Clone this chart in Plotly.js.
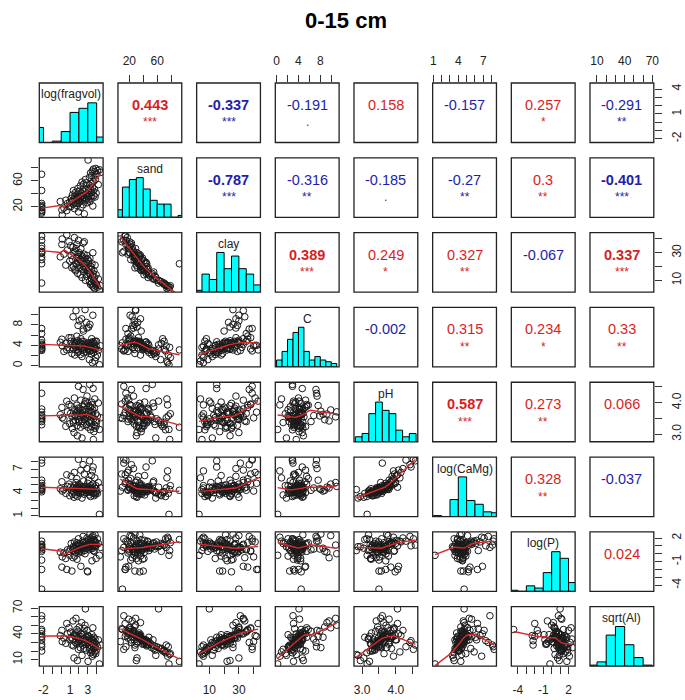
<!DOCTYPE html>
<html><head><meta charset="utf-8">
<script src="https://cdn.plot.ly/plotly-3.0.1.min.js"></script>
<style>html,body{margin:0;padding:0;background:#fff}</style>
</head><body>
<div id="chart" style="width:685px;height:700px"></div>
<script>
// ---------------- data ----------------
const varNames = ['log(fragvol)', 'sand', 'clay', 'C', 'pH', 'log(CaMg)', 'log(P)', 'sqrt(Al)'];

const fragvol = [-2.2,-2.2,-2.2,-2.2,-2.2,-2.2,-2.2,-2.2,-2.2,-2.2,-2.2,
  -0.1, 0.08,0.12,0.31,0.52,0.63,0.71,0.88,0.97,
  1.06,1.13,1.21,1.27,1.34,1.38,1.45,1.49,1.53,1.58,1.62,1.67,1.71,1.76,1.79,1.83,1.86,1.9,1.93,1.95,1.98,2.0,
  2.04,2.09,2.15,2.18,2.22,2.27,2.31,2.35,2.38,2.43,2.47,2.5,2.54,2.57,2.61,2.66,2.69,2.73,2.76,2.8,2.84,2.87,2.91,2.95,2.99,
  3.03,3.07,3.11,3.14,3.18,3.21,3.24,3.28,3.31,3.34,3.38,3.41,3.44,3.47,3.51,3.54,3.57,3.6,3.63,3.66,3.69,3.72,3.75,3.79,3.82,3.86,3.9,3.94,3.98,
  4.08,4.19,4.31,4.46];

const sand = [70,45,25,22,20,19,18,15,14,10,12,
  28,15,7,18,30,14,25,20,27,
  20,33,28,38,24,45,31,17,36,26,42,29,34,22,39,30,48,25,35,12,32,44,
  27,38,52,33,19,41,36,58,30,46,23,37,55,34,9,43,29,62,39,47,32,57,26,40,35,
  92,45,31,38,65,53,28,48,72,36,56,42,68,33,75,50,21,44,78,59,37,66,47,74,35,62,79,41,70,
  76,54,77,73];

const clay = [8,22,27,25,30,33,35,39,42,30,31,
  27,36,40,29,21,43,32,38,24,
  35,28,19,25,34,20,30,41,18,31,17,33,22,36,26,24,15,29,27,39,19,23,
  30,21,14,25,33,24,28,12,27,18,37,20,16,29,38,22,26,10,18,19,23,13,28,17,25,
  22,16,24,19,9,15,26,14,7,20,11,18,8,22,6,13,30,15,5,10,17,9,12,4,21,8,6,14,7,
  5,11,3,6];

const carbon = [3.2,3.4,3.5,3.8,5.0,4.2,6.3,7.3,4.0,4.5,3.0,
  4.6,5.2,3.9,2.8,4.4,3.1,3.6,5.5,3.2,
  4.8,5.5,2.4,4.1,9.6,3.3,4.7,4.0,2.1,4.3,3.7,10.8,4.5,5.8,3.1,4.9,2.6,7.9,4.2,2.9,3.5,4.6,
  8.8,3.9,2.2,4.4,5.3,3.4,9.2,1.8,4.8,3.0,7.2,6.8,2.5,4.7,3.3,3.6,11.0,4.1,3.8,4.3,8.5,2.7,7.4,3.3,4.5,
  3.1,4.2,7.6,3.7,1.2,2.9,8.1,4.0,2.9,4.6,2.3,3.5,5.3,4.4,0.6,3.1,9.9,4.7,3.6,2.6,4.1,4.4,3.4,0.9,4.8,3.3,1.6,3.9,4.8,
  2.1,3.0,0.2,3.9];

const pH = [3.3,3.45,3.6,3.5,3.55,3.8,3.4,4.3,3.7,3.5,3.6,
  3.62,3.85,3.52,3.48,3.25,4.05,3.71,3.94,3.33,
  3.66,3.89,3.57,3.18,3.42,3.36,3.05,4.15,3.78,3.61,3.44,3.55,3.69,3.92,3.27,2.95,3.74,3.58,3.83,4.52,3.39,3.67,
  3.46,3.81,3.53,3.22,4.08,3.35,3.64,2.88,3.76,3.41,4.42,3.59,3.87,3.28,3.96,3.47,3.71,4.05,3.54,3.79,3.63,3.31,4.21,3.50,3.98,
  3.22,3.68,3.91,3.56,3.37,4.58,3.73,3.45,3.14,3.86,3.40,4.02,3.24,3.70,3.93,3.60,3.77,4.45,2.83,3.49,3.08,3.30,3.82,4.12,3.19,3.43,3.65,3.26,3.38,
  3.58,3.99,3.15,3.52];

const logCaMg = [4.1,4.4,4.9,4.5,4.6,5.6,4.3,8.2,5.2,4.7,7.8,
  4.5,5.4,4.2,4.4,3.9,6.3,4.8,5.1,3.6,
  4.7,6.1,4.3,3.8,4.6,4.1,3.4,6.6,4.9,4.4,3.7,5.3,4.6,5.8,4.2,3.5,4.8,4.5,4.9,8.3,4.0,4.6,
  4.3,5.0,4.4,3.9,6.9,4.1,4.7,3.3,4.5,4.2,7.6,4.6,5.5,3.8,6.4,4.3,4.8,4.7,4.5,4.4,4.2,4.0,7.1,4.6,5.2,
  4.3,4.7,5.6,4.1,3.7,8.1,4.4,4.6,3.5,4.9,4.2,6.2,4.0,4.5,6.8,4.3,5.1,7.3,4.4,4.0,3.9,3.6,4.7,5.9,4.2,3.8,4.9,4.5,4.1,
  3.9,5.3,1.2,4.6];

const logP = [1.1,0.7,0.3,-0.8,0.9,1.2,0.5,1.6,-2.0,-4.5,0.8,
  0.2,-1.7,-0.4,0.1,-0.6,-2.0,0.5,0.3,-0.2,
  0.6,1.3,-2.2,0.4,-0.5,0.9,0.7,1.5,-0.3,0.8,0.2,1.1,0.5,1.4,-0.7,0.9,0.4,0.6,1.2,1.9,0.1,1.0,
  0.3,1.3,0.8,0.5,-1.6,0.7,0.2,0.9,1.1,1.6,2.2,0.6,1.4,0.8,0.4,1.2,0.0,1.0,0.9,1.5,0.7,1.0,2.0,-2.2,-2.3,
  1.8,0.9,1.6,0.5,1.3,1.1,2.5,0.8,1.9,1.4,0.6,1.7,1.2,-0.9,2.1,0.7,2.3,1.0,0.4,1.5,1.8,0.3,1.2,1.6,2.4,0.9,1.4,-0.6,1.1,
  1.9,1.3,-0.2,0.8];

const sqrtAl = [20,28,36,33,40,57,43,25,37,45,61,
  38,44,31,35,29,52,40,47,33,
  42,36,27,34,55,26,12,38,39,41,30,58,37,45,28,9,36,43,35,22,31,33,
  48,32,24,37,40,29,53,15,39,27,30,34,23,41,46,31,50,69,33,28,36,21,44,32,38,
  8,30,37,34,22,27,24,31,18,35,26,33,20,39,14,29,47,32,16,25,36,23,30,19,34,24,17,28,21,
  25,33,5,27];

// histogram bins (left edges of bins, bin width) and counts
const histStartFragvol = [-3,-2,-1,0,1,2,3,4];           const histCountFragvol = [11,0,1,8,22,25,29,4];
const histStartSand    = [0,10,20,30,40,50,60,70,80,90];  const histCountSand    = [4,16,20,21,15,9,7,7,0,1];
const histStartClay    = [0,5,10,15,20,25,30,35,40];      const histCountClay    = [1,10,7,22,13,20,13,10,4];
const histStartC       = [0,1,2,3,4,5,6,7,8,9,10];        const histCountC       = [4,9,16,20,23,9,4,6,4,3,2];
const histStartPH      = [2.8,3.0,3.2,3.4,3.6,3.8,4.0,4.2,4.4]; const histCountPH = [3,5,17,24,19,17,7,3,5];
const histStartCaMg    = [1,2,3,4,5,6,7,8];               const histCountCaMg    = [1,0,18,42,17,13,5,4];
const histStartP       = [-5,-4,-3,-2,-1,0,1,2];          const histCountP       = [1,0,5,3,17,36,30,8];
const histStartAl      = [0,10,20,30,40,50,60];           const histCountAl      = [1,4,29,37,20,8,1];
const histWidth = [1, 10, 5, 1, 0.2, 1, 1, 10];

// tick values and labels (x axis labels / y axis labels)
const ticksFragvol = [-2,-1,0,1,2,3,4];  const xLabFragvol = ['-2','','','1','','3',''];   const yLabFragvol = ['-2','','','1','','','4'];
const ticksSand = [20,40,60,80];         const xLabSand = ['20','','60',''];              const yLabSand = ['20','','60',''];
const ticksClay = [10,20,30,40];         const xLabClay = ['10','','30',''];              const yLabClay = ['10','','30',''];
const ticksC = [0,2,4,6,8,10];           const xLabC = ['0','','4','','8',''];            const yLabC = ['0','','4','','8',''];
const ticksPH = [3.0,3.5,4.0,4.5];       const xLabPH = ['3.0','','4.0',''];              const yLabPH = ['3.0','','4.0',''];
const ticksCaMg = [1,2,3,4,5,6,7,8];     const xLabCaMg = ['1','','','4','','','7',''];   const yLabCaMg = ['1','','','4','','','7',''];
const ticksP = [-4,-3,-2,-1,0,1,2];      const xLabP = ['-4','','','-1','','','2'];       const yLabP = ['-4','','','-1','','','2'];
const ticksAl = [10,20,30,40,50,60,70];  const xLabAl = ['10','','','40','','','70'];     const yLabAl = ['10','','','40','','','70'];

// correlations of the upper panels, row by row
const corrValues = [0.443,-0.337,-0.191,0.158,-0.157,0.257,-0.291,
  -0.787,-0.316,-0.185,-0.27,0.3,-0.401,
  0.389,0.249,0.327,-0.067,0.337,
  -0.002,0.315,0.234,0.33,
  0.587,0.273,0.066,
  0.328,-0.037,
  0.024];
const corrStars = ['***','***','.','','','*','**',
  '***','**','.','**','**','***',
  '***','*','**','','***',
  '','**','*','**',
  '***','**','',
  '**','',
  ''];

// ---------------- drawing ----------------
const vars = [fragvol, sand, clay, carbon, pH, logCaMg, logP, sqrtAl];
const histStarts = [histStartFragvol, histStartSand, histStartClay, histStartC, histStartPH, histStartCaMg, histStartP, histStartAl];
const histCounts = [histCountFragvol, histCountSand, histCountClay, histCountC, histCountPH, histCountCaMg, histCountP, histCountAl];
const tickVals = [ticksFragvol, ticksSand, ticksClay, ticksC, ticksPH, ticksCaMg, ticksP, ticksAl];
const xLabs = [xLabFragvol, xLabSand, xLabClay, xLabC, xLabPH, xLabCaMg, xLabP, xLabAl];
const yLabs = [yLabFragvol, yLabSand, yLabClay, yLabC, yLabPH, yLabCaMg, yLabP, yLabAl];

const NV = 8;
const FONT = 'Liberation Sans, Arial, Helvetica, sans-serif';
const W = 685, H = 700;
const PX0 = 39.3, PDX = 78.67, PW = 63.8;
const PY0 = 83, PDY = 74.81, PH = 59.5;

function ext(a) {
  const mn = Math.min(...a), mx = Math.max(...a), d = (mx - mn) * 0.04;
  return [mn - d, mx + d];
}

// R's lowess (clowess), used by panel.smooth
function lowess(xIn, yIn, f, nsteps) {
  const n = xIn.length;
  const ord = xIn.map((_, i) => i).sort((a, b) => (xIn[a] - xIn[b]) || (a - b));
  const x = [0].concat(ord.map(i => xIn[i]));
  const y = [0].concat(ord.map(i => yIn[i]));
  const delta = 0.01 * (x[n] - x[1]);
  const ys = new Array(n + 1).fill(0);
  const rw = new Array(n + 1).fill(1);
  const w = new Array(n + 1).fill(0);
  const res = new Array(n + 1).fill(0);
  const ns = Math.max(2, Math.min(n, Math.floor(f * n + 1e-7)));
  const range = x[n] - x[1];
  function lowest(xs, nleft, nright, userw) {
    const h = Math.max(xs - x[nleft], x[nright] - xs);
    const h9 = 0.999 * h, h1 = 0.001 * h;
    let a = 0, j = nleft;
    while (j <= n) {
      w[j] = 0;
      const r = Math.abs(x[j] - xs);
      if (r <= h9) {
        if (r <= h1) w[j] = 1;
        else { const q = r / h; const t = 1 - q * q * q; w[j] = t * t * t; }
        if (userw) w[j] *= rw[j];
        a += w[j];
      } else if (x[j] > xs) break;
      j++;
    }
    const nrt = j - 1;
    if (a <= 0) return null;
    for (j = nleft; j <= nrt; j++) w[j] /= a;
    if (h > 0) {
      a = 0;
      for (j = nleft; j <= nrt; j++) a += w[j] * x[j];
      let b = xs - a, c = 0;
      for (j = nleft; j <= nrt; j++) c += w[j] * (x[j] - a) * (x[j] - a);
      if (Math.sqrt(c) > 0.001 * range) {
        b /= c;
        for (j = nleft; j <= nrt; j++) w[j] *= (b * (x[j] - a) + 1);
      }
    }
    let out = 0;
    for (j = nleft; j <= nrt; j++) out += w[j] * y[j];
    return out;
  }
  let iter = 1;
  while (iter <= nsteps + 1) {
    let nleft = 1, nright = ns, last = 0, i = 1;
    for (;;) {
      if (nright < n) {
        const d1 = x[i] - x[nleft], d2 = x[nright + 1] - x[i];
        if (d1 > d2) { nleft++; nright++; continue; }
      }
      const v = lowest(x[i], nleft, nright, iter > 1);
      ys[i] = (v === null) ? y[i] : v;
      if (last < i - 1) {
        const denom = x[i] - x[last];
        for (let j = last + 1; j < i; j++) {
          const alpha = (x[j] - x[last]) / denom;
          ys[j] = alpha * ys[i] + (1 - alpha) * ys[last];
        }
      }
      last = i;
      const cut = x[last] + delta;
      for (i = last + 1; i <= n; i++) {
        if (x[i] > cut) break;
        if (x[i] === x[last]) { ys[i] = ys[last]; last = i; }
      }
      i = Math.max(last + 1, i - 1);
      if (last >= n) break;
    }
    for (let k = 1; k <= n; k++) res[k] = y[k] - ys[k];
    let sc = 0;
    for (let k = 1; k <= n; k++) sc += Math.abs(res[k]);
    sc /= n;
    if (iter > nsteps) break;
    const ar = [];
    for (let k = 1; k <= n; k++) ar.push(Math.abs(res[k]));
    ar.sort((a, b) => a - b);
    const m1 = Math.floor(n / 2);
    let cmad;
    if (n % 2 === 0) { const m2 = n - m1 - 1; cmad = 3 * (ar[m1] + ar[m2]); }
    else cmad = 6 * ar[m1];
    if (cmad < 1e-7 * sc) break;
    const c9 = 0.999 * cmad, c1 = 0.001 * cmad;
    for (let k = 1; k <= n; k++) {
      const r = Math.abs(res[k]);
      rw[k] = r <= c1 ? 1 : (r <= c9 ? Math.pow(1 - Math.pow(r / cmad, 2), 2) : 0);
    }
    iter++;
  }
  return { x: x.slice(1), y: ys.slice(1) };
}

const RED = '#d81e1e', BLUE = '#1e1eaa';
const layout = {
  width: W, height: H,
  margin: { l: 0, r: 0, t: 0, b: 0 },
  showlegend: false, hovermode: false,
  paper_bgcolor: '#ffffff', plot_bgcolor: 'rgba(0,0,0,0)',
  font: { family: FONT, size: 12, color: '#222' },
  title: {
    text: '0-15 cm', x: 346 / W, xref: 'paper', xanchor: 'center',
    y: 1 - 20 / H, yref: 'paper', yanchor: 'middle',
    font: { family: FONT, size: 22, weight: 'bold', color: '#000' }
  },
  annotations: [], shapes: []
};

for (let k = 0; k < NV; k++) {
  const x0 = PX0 + k * PDX;
  const y0 = PY0 + k * PDY;
  const xdom = [x0 / W, (x0 + PW) / W];
  const ydom = [1 - (y0 + PH) / H, 1 - y0 / H];
  const oddR = (k % 2 === 0); // 1-based odd index
  const common = {
    tickmode: 'array', tickvals: tickVals[k], ticks: 'outside', ticklen: 7, tickwidth: 1,
    tickcolor: '#333', showgrid: false, zeroline: false, showline: false, fixedrange: true,
    tickfont: { family: FONT, size: 12, color: '#222' }, ticklabelstandoff: 5
  };
  layout['xaxis' + (k + 1)] = Object.assign({}, common, {
    domain: xdom, range: ext(vars[k]), ticktext: xLabs[k],
    anchor: oddR ? 'y8' : 'y1', side: oddR ? 'bottom' : 'top'
  });
  layout['yaxis' + (k + 1)] = Object.assign({}, common, {
    domain: ydom, range: ext(vars[k]), ticktext: yLabs[k], tickangle: -90,
    anchor: oddR ? 'x8' : 'x1', side: oddR ? 'right' : 'left'
  });
  layout['yaxis' + (k + 1 + NV)] = {
    domain: ydom, range: [0, 1.5 * Math.max(...histCounts[k])], anchor: 'x' + (k + 1),
    visible: false, fixedrange: true, showgrid: false, zeroline: false
  };
}

const traces = [];
for (let i = 0; i < NV; i++) {
  for (let j = 0; j < NV; j++) {
    const xa = 'x' + (j + 1), ya = 'y' + (i + 1);
    layout.shapes.push({
      type: 'rect', xref: xa + ' domain', yref: ya + ' domain', x0: 0, x1: 1, y0: 0, y1: 1,
      line: { color: '#222', width: 1.3 }, fillcolor: 'rgba(0,0,0,0)', layer: 'above'
    });
    if (i > j) {
      traces.push({
        type: 'scatter', mode: 'markers', x: vars[j], y: vars[i], xaxis: xa, yaxis: ya,
        marker: { symbol: 'circle-open', size: 6.6, color: '#1a1a1a', line: { width: 1, color: '#1a1a1a' } },
        hoverinfo: 'skip'
      });
      const sm = lowess(vars[j], vars[i], 2 / 3, 3);
      traces.push({
        type: 'scatter', mode: 'lines', x: sm.x, y: sm.y, xaxis: xa, yaxis: ya,
        line: { color: '#d42a2a', width: 1.4 }, hoverinfo: 'skip'
      });
    } else if (i < j) {
      traces.push({ type: 'scatter', mode: 'markers', x: [], y: [], xaxis: xa, yaxis: ya, hoverinfo: 'skip' });
    }
  }
}

// diagonal histograms and names
for (let k = 0; k < NV; k++) {
  const starts = histStarts[k], counts = histCounts[k], bw = histWidth[k];
  traces.push({
    type: 'bar', x: starts.map(s => s + bw / 2), y: counts, width: starts.map(() => bw),
    xaxis: 'x' + (k + 1), yaxis: 'y' + (k + 1 + NV),
    marker: { color: '#00ffff', line: { color: '#000', width: 1 } }, hoverinfo: 'skip'
  });
  layout.annotations.push({
    text: varNames[k], xref: 'x' + (k + 1) + ' domain', yref: 'y' + (k + 1) + ' domain',
    x: 0.5, y: 1 - 11.5 / PH, xanchor: 'center', yanchor: 'middle', showarrow: false,
    font: { family: FONT, size: 12, color: '#222' }
  });
}

// upper panels: correlation text
let c = 0;
for (let i = 0; i < NV; i++) {
  for (let j = i + 1; j < NV; j++) {
    const r = corrValues[c], st = corrStars[c];
    const col = r >= 0 ? RED : BLUE;
    const bold = Math.abs(r) > 0.335;
    const xa = 'x' + (j + 1) + ' domain', ya = 'y' + (i + 1) + ' domain';
    layout.annotations.push({
      text: String(r), xref: xa, yref: ya, x: 0.5, y: 1 - 22 / PH, xanchor: 'center', yanchor: 'middle',
      showarrow: false, font: { family: FONT, size: 14.5, color: col, weight: bold ? 'bold' : 'normal' }
    });
    if (st) {
      layout.annotations.push({
        text: st, xref: xa, yref: ya, x: 0.5, y: 1 - 39.5 / PH, xanchor: 'center', yanchor: 'middle',
        showarrow: false, font: { family: FONT, size: 12, color: col }
      });
    }
    c++;
  }
}

Plotly.newPlot('chart', traces, layout, { staticPlot: true, displayModeBar: false });
</script>
</body></html>
